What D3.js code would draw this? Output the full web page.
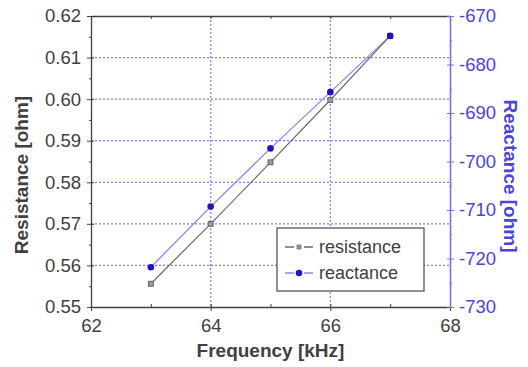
<!DOCTYPE html>
<html>
<head>
<meta charset="utf-8">
<script src="https://cdn.jsdelivr.net/npm/d3@7"></script>
<style>
  body { margin: 0; background: #fff; }
  svg text { font-family: 'Liberation Sans', Arial, sans-serif; }
</style>
</head>
<body>
<div id="chart"></div>
<script>
const frequency = [63, 64, 65, 66, 67]
const resistance = [0.5556, 0.570, 0.5848, 0.5998, 0.6152]
const reactance = [-721.8, -709.3, -697.3, -685.7, -674.1]

const xTicks = [62, 64, 66, 68]
const xMinor = [63, 65, 67]
const leftTicks = [0.55, 0.56, 0.57, 0.58, 0.59, 0.60, 0.61, 0.62]
const rightTicks = [-730, -720, -710, -700, -690, -680, -670]

const W = 528
const H = 367
const margin = { top: 16, right: 78, bottom: 60, left: 91 }
const width = W - margin.left - margin.right
const height = H - margin.top - margin.bottom

const ink = '#404040'
const blueAxis = '#7a72e0'
const blueText = '#4b44d8'
const gridColor = '#8078ee'

const svg = d3.select('#chart')
  .append('svg')
  .attr('width', W)
  .attr('height', H)
  .style('background', '#fff')

const g = svg.append('g').attr('transform', `translate(${margin.left},${margin.top})`)

const x = d3.scaleLinear().domain([62, 68]).range([0, width])
const yL = d3.scaleLinear().domain([0.55, 0.62]).range([height, 0])
const yR = d3.scaleLinear().domain([-730, -670]).range([height, 0])

const halfSteps = (ticks) => ticks.slice(0, -1).map((t, i) => (t + ticks[i + 1]) / 2)

// grid
g.append('g')
  .selectAll('line')
  .data(leftTicks.slice(1, -1))
  .enter()
  .append('line')
  .attr('x1', 0)
  .attr('x2', width)
  .attr('y1', (d) => yL(d))
  .attr('y2', (d) => yL(d))
  .attr('stroke', gridColor)
  .attr('stroke-width', 1.2)
  .attr('stroke-dasharray', '2,2')

g.append('g')
  .selectAll('line')
  .data(xTicks.slice(1, -1))
  .enter()
  .append('line')
  .attr('x1', (d) => x(d))
  .attr('x2', (d) => x(d))
  .attr('y1', 0)
  .attr('y2', height)
  .attr('stroke', gridColor)
  .attr('stroke-width', 1.2)
  .attr('stroke-dasharray', '2,2')

const styleAxis = (sel, color, size) => {
  sel.select('.domain').attr('stroke', color).attr('stroke-width', 1.3)
  sel.selectAll('.tick line').attr('stroke', color)
  sel.selectAll('.tick text').attr('fill', color).attr('font-size', size)
}

// bottom axis
const xAxis = g.append('g')
  .attr('transform', `translate(0,${height})`)
  .call(d3.axisBottom(x).tickValues(xTicks).tickFormat((d) => String(d)).tickSizeInner(4).tickSizeOuter(0).tickPadding(8))
styleAxis(xAxis, ink, 18.5)
g.append('g')
  .attr('transform', `translate(0,${height})`)
  .call(d3.axisBottom(x).tickValues(xTicks.concat(xMinor)).tickFormat('').tickSizeInner(-3).tickSizeOuter(0))
  .call((s) => { s.select('.domain').remove(); s.selectAll('line').attr('stroke', ink) })

// top axis
g.append('g')
  .call(d3.axisTop(x).tickValues(xTicks.concat(xMinor)).tickFormat('').tickSizeInner(-3).tickSizeOuter(0))
  .call((s) => styleAxis(s, ink, 18))

// left axis
const leftAxis = g.append('g')
  .call(d3.axisLeft(yL).tickValues(leftTicks).tickFormat((d) => d.toFixed(2)).tickSizeInner(4).tickSizeOuter(0).tickPadding(6))
styleAxis(leftAxis, ink, 18.5)
g.append('g')
  .call(d3.axisLeft(yL).tickValues(leftTicks).tickFormat('').tickSizeInner(-3).tickSizeOuter(0))
  .call((s) => { s.select('.domain').remove(); s.selectAll('line').attr('stroke', ink) })
g.append('g')
  .call(d3.axisLeft(yL).tickValues(halfSteps(leftTicks)).tickFormat('').tickSizeInner(2).tickSizeOuter(0))
  .call((s) => { s.select('.domain').remove(); s.selectAll('line').attr('stroke', ink) })

// right axis (plain hyphen minus like the original)
const rightAxis = g.append('g')
  .attr('transform', `translate(${width},0)`)
  .call(d3.axisRight(yR).tickValues(rightTicks).tickFormat((d) => String(d)).tickSizeInner(4).tickSizeOuter(0).tickPadding(5))
styleAxis(rightAxis, blueText, 18.5)
rightAxis.select('.domain').attr('stroke', blueAxis).attr('stroke-width', 1.6)
rightAxis.selectAll('.tick line').attr('stroke', blueAxis)
g.append('g')
  .attr('transform', `translate(${width},0)`)
  .call(d3.axisRight(yR).tickValues(rightTicks).tickFormat('').tickSizeInner(-3).tickSizeOuter(0))
  .call((s) => { s.select('.domain').remove(); s.selectAll('line').attr('stroke', blueAxis) })
g.append('g')
  .attr('transform', `translate(${width},0)`)
  .call(d3.axisRight(yR).tickValues(halfSteps(rightTicks)).tickFormat('').tickSizeInner(2).tickSizeOuter(0))
  .call((s) => { s.select('.domain').remove(); s.selectAll('line').attr('stroke', blueAxis) })

// series
const resData = frequency.map((f, i) => ({ f, v: resistance[i] }))
const reaData = frequency.map((f, i) => ({ f, v: reactance[i] }))

g.append('path')
  .datum(reaData)
  .attr('fill', 'none')
  .attr('stroke', '#8c86e8')
  .attr('stroke-width', 1.3)
  .attr('d', d3.line().x((d) => x(d.f)).y((d) => yR(d.v)))

g.append('path')
  .datum(resData)
  .attr('fill', 'none')
  .attr('stroke', '#6a6a6a')
  .attr('stroke-width', 1.2)
  .attr('d', d3.line().x((d) => x(d.f)).y((d) => yL(d.v)))

g.selectAll('.res-pt')
  .data(resData)
  .enter()
  .append('rect')
  .attr('class', 'res-pt')
  .attr('x', (d) => x(d.f) - 2.5)
  .attr('y', (d) => yL(d.v) - 2.5)
  .attr('width', 5)
  .attr('height', 5)
  .attr('fill', '#9a9a9a')
  .attr('stroke', '#555')
  .attr('stroke-width', 0.8)

g.selectAll('.rea-pt')
  .data(reaData)
  .enter()
  .append('circle')
  .attr('class', 'rea-pt')
  .attr('cx', (d) => x(d.f))
  .attr('cy', (d) => yR(d.v))
  .attr('r', 3.3)
  .attr('fill', '#1a14c8')

// legend
const legend = g.append('g').attr('transform', `translate(${277 - margin.left},${228 - margin.top})`)
legend.append('rect')
  .attr('width', 147)
  .attr('height', 63)
  .attr('fill', '#fff')
  .attr('stroke', '#555')
  .attr('stroke-width', 1.3)

const entries = [
  { label: 'resistance', color: '#6a6a6a', y: 19 },
  { label: 'reactance', color: '#8c86e8', y: 45 }
]
entries.forEach((e, i) => {
  const row = legend.append('g').attr('transform', `translate(0,${e.y})`)
  row.append('line').attr('x1', 8).attr('x2', 17).attr('stroke', e.color).attr('stroke-width', 1.5)
  row.append('line').attr('x1', 27).attr('x2', 36).attr('stroke', e.color).attr('stroke-width', 1.5)
  if (i === 0) {
    row.append('rect').attr('x', 20).attr('y', -2).attr('width', 4).attr('height', 4)
      .attr('fill', '#9a9a9a').attr('stroke', '#555').attr('stroke-width', 0.6)
  } else {
    row.append('circle').attr('cx', 22).attr('r', 3.3).attr('fill', '#1a14c8')
  }
  row.append('text')
    .attr('x', 42)
    .attr('dy', '0.35em')
    .attr('fill', ink)
    .attr('font-size', 18)
    .text(e.label)
})

// titles
svg.append('text')
  .attr('x', margin.left + width / 2)
  .attr('y', 357)
  .attr('text-anchor', 'middle')
  .attr('fill', ink)
  .attr('font-size', 19)
  .attr('font-weight', 'bold')
  .text('Frequency [kHz]')

svg.append('text')
  .attr('transform', `translate(21,175) rotate(-90)`)
  .attr('text-anchor', 'middle')
  .attr('dy', '0.35em')
  .attr('fill', ink)
  .attr('font-size', 19)
  .attr('font-weight', 'bold')
  .text('Resistance [ohm]')

svg.append('text')
  .attr('transform', `translate(511,176) rotate(90)`)
  .attr('text-anchor', 'middle')
  .attr('dy', '0.35em')
  .attr('fill', blueText)
  .attr('font-size', 19)
  .attr('font-weight', 'bold')
  .text('Reactance [ohm]')
</script>
</body>
</html>
